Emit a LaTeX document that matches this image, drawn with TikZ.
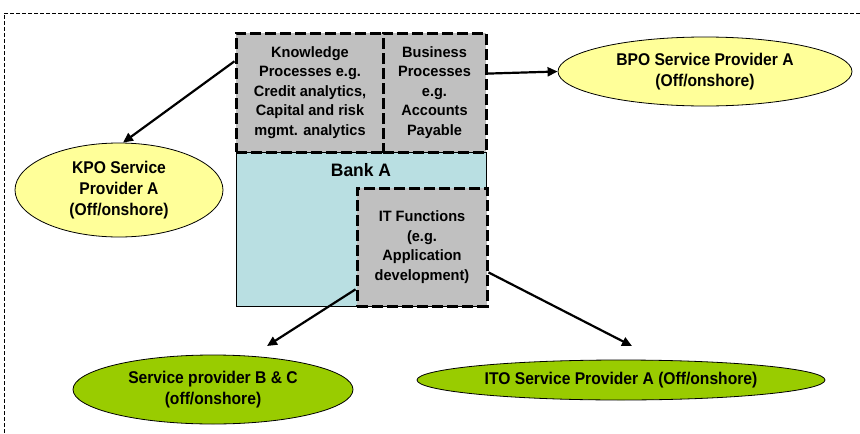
\documentclass[tikz,border=0pt]{standalone}
\usepackage{fontspec}
\setmainfont{Liberation Sans}
\newfontfamily\ellfont[FakeStretch=0.92]{Liberation Sans}
\newfontfamily\boxfont[FakeStretch=0.97]{Liberation Sans}
\usetikzlibrary{arrows.meta,calc,shapes.geometric}
\definecolor{procgray}{HTML}{C0C0C0}
\definecolor{bankteal}{HTML}{B9DFE2}
\definecolor{kpoyellow}{HTML}{FFFF99}
\definecolor{itogreen}{HTML}{99CC00}
\tikzset{
  procbox/.style={draw=black, fill=procgray, line width=3pt,
    dash pattern=on 11pt off 4pt, inner sep=0pt, align=center,
    font=\boxfont\bfseries\fontsize{15}{19.5}\selectfont},
  provider/.style={ellipse, draw=black, line width=0.8pt, inner sep=0pt,
    align=center, font=\ellfont\bfseries\fontsize{17}{21}\selectfont},
  link/.style={line width=2.2pt, -{Triangle[length=10pt,width=9pt]}},
  frame/.style={line width=1pt, dash pattern=on 4pt off 2pt}
}
\begin{document}
\begin{tikzpicture}[x=1pt,y=-1pt]
\useasboundingbox (0,0) rectangle (860,434);

% outer dashed frame (top and left sides)
\coordinate (ftl) at (4,13);
\coordinate (ftr) at (860,13);
\coordinate (fbl) at (4,434);
\draw[frame] (ftr) -- (ftl) -- (fbl);

% the bank and its functions
\node[draw=black, fill=bankteal, line width=0.8pt, minimum width=250pt,
  minimum height=154pt, inner sep=0pt] (bank) at (361,229) {};
\node[font=\boxfont\bfseries\fontsize{18}{22}\selectfont] (banklabel) at (361,170) {Bank A};

\node[procbox, minimum width=148pt, minimum height=119pt] (kp) at (310,92.5)
  {Knowledge\\Processes e.g.\\Credit analytics,\\Capital and risk\\mgmt. analytics};
\node[procbox, minimum width=103pt, minimum height=119pt] (bp) at (434.5,92.5)
  {Business\\Processes\\e.g.\\Accounts\\Payable};
\node[procbox, minimum width=130pt, minimum height=118pt] (it) at (422,247)
  {IT Functions\\(e.g.\\Application\\development)};

% service providers
\node[provider, fill=kpoyellow, minimum width=208pt, minimum height=94pt] (kpo) at (119,190)
  {KPO Service\\Provider A\\(Off/onshore)};
\node[provider, fill=kpoyellow, minimum width=294pt, minimum height=69pt] (bpo) at (705,71.5)
  {BPO Service Provider A\\(Off/onshore)};
\node[provider, fill=itogreen, minimum width=280pt, minimum height=69pt] (bc) at (213,389.5)
  {Service provider B \& C\\(off/onshore)};
\node[provider, fill=itogreen, minimum width=408pt, minimum height=40pt] (ito) at (621,380)
  {ITO Service Provider A (Off/onshore)};

% arrow ends that stop short of the lower providers
\coordinate (bctip) at (267,346);
\coordinate (itotip) at (632,346);

% connectors
\draw[link] ($(kp.north west)!0.244!(kp.south west)$) -- ($(kpo.north)+(4,0)$);
\draw[link] ($(bp.north east)!0.345!(bp.south east)$) -- (bpo.west);
\draw[link] ($(it.north west)!0.85!(it.south west)$) -- (bctip);
\draw[link] ($(it.north east)!0.71!(it.south east)$) -- (itotip);
\end{tikzpicture}
\end{document}
